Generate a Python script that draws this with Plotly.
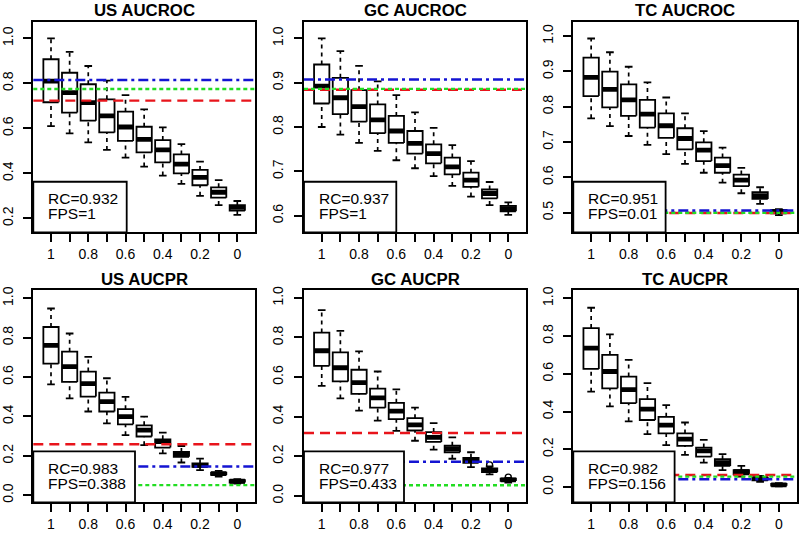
import plotly.graph_objects as go

# ---------------- data ----------------
x_levels = [1.0, 0.9, 0.8, 0.7, 0.6, 0.5, 0.4, 0.3, 0.2, 0.1, 0.0]
x_tick_text = ["1", "", "0.8", "", "0.6", "", "0.4", "", "0.2", "", "0"]

panel_titles = ["US AUCROC", "GC AUCROC", "TC AUCROC", "US AUCPR", "GC AUCPR", "TC AUCPR"]
rc_values = ["0.932", "0.937", "0.951", "0.983", "0.977", "0.982"]
fps_values = ["1", "1", "0.01", "0.388", "0.433", "0.156"]

# US AUCROC
us_roc_high = [1.000, 0.940, 0.877, 0.812, 0.748, 0.684, 0.604, 0.530, 0.452, 0.370, 0.277]
us_roc_q3 = [0.907, 0.847, 0.796, 0.729, 0.674, 0.607, 0.548, 0.484, 0.415, 0.338, 0.259]
us_roc_med = [0.810, 0.759, 0.714, 0.655, 0.606, 0.551, 0.504, 0.441, 0.382, 0.316, 0.249]
us_roc_q1 = [0.716, 0.670, 0.634, 0.582, 0.544, 0.493, 0.449, 0.400, 0.347, 0.292, 0.234]
us_roc_low = [0.610, 0.578, 0.538, 0.504, 0.470, 0.430, 0.390, 0.353, 0.300, 0.259, 0.215]

# GC AUCROC
gc_roc_high = [1.000, 0.971, 0.938, 0.903, 0.872, 0.833, 0.798, 0.759, 0.723, 0.676, 0.630]
gc_roc_q3 = [0.941, 0.911, 0.883, 0.851, 0.825, 0.791, 0.761, 0.731, 0.697, 0.659, 0.622]
gc_roc_med = [0.892, 0.866, 0.846, 0.816, 0.791, 0.763, 0.740, 0.710, 0.680, 0.650, 0.616]
gc_roc_q1 = [0.853, 0.829, 0.812, 0.786, 0.764, 0.740, 0.718, 0.693, 0.665, 0.639, 0.610]
gc_roc_low = [0.800, 0.783, 0.764, 0.746, 0.725, 0.707, 0.689, 0.667, 0.643, 0.624, 0.602]

# TC AUCROC
tc_roc_high = [0.993, 0.954, 0.913, 0.869, 0.826, 0.781, 0.731, 0.684, 0.627, 0.572, 0.510]
tc_roc_q3 = [0.939, 0.899, 0.863, 0.819, 0.781, 0.739, 0.699, 0.656, 0.608, 0.558, 0.508]
tc_roc_med = [0.883, 0.849, 0.819, 0.779, 0.746, 0.710, 0.677, 0.633, 0.592, 0.548, 0.503]
tc_roc_q1 = [0.830, 0.798, 0.774, 0.741, 0.712, 0.679, 0.646, 0.613, 0.575, 0.539, 0.498]
tc_roc_low = [0.767, 0.745, 0.717, 0.692, 0.666, 0.638, 0.613, 0.585, 0.555, 0.525, 0.493]

# US AUCPR
us_pr_high = [0.948, 0.821, 0.702, 0.594, 0.499, 0.399, 0.318, 0.250, 0.186, 0.124, 0.081]
us_pr_q3 = [0.854, 0.729, 0.628, 0.521, 0.437, 0.355, 0.284, 0.220, 0.162, 0.115, 0.076]
us_pr_med = [0.761, 0.653, 0.567, 0.475, 0.399, 0.330, 0.272, 0.208, 0.152, 0.110, 0.071]
us_pr_q1 = [0.668, 0.575, 0.501, 0.425, 0.360, 0.298, 0.242, 0.195, 0.144, 0.103, 0.064]
us_pr_low = [0.563, 0.492, 0.425, 0.365, 0.305, 0.254, 0.212, 0.166, 0.127, 0.095, 0.059]

# GC AUCPR
gc_pr_high = [0.938, 0.833, 0.730, 0.628, 0.538, 0.445, 0.367, 0.295, 0.220, 0.148, 0.090]
gc_pr_q3 = [0.825, 0.725, 0.637, 0.542, 0.470, 0.392, 0.322, 0.253, 0.192, 0.138, 0.087]
gc_pr_med = [0.733, 0.647, 0.572, 0.495, 0.428, 0.358, 0.295, 0.238, 0.180, 0.128, 0.080]
gc_pr_q1 = [0.657, 0.578, 0.515, 0.445, 0.387, 0.330, 0.272, 0.220, 0.167, 0.120, 0.075]
gc_pr_low = [0.555, 0.492, 0.430, 0.380, 0.328, 0.278, 0.233, 0.187, 0.145, 0.108, 0.067]
gc_pr_outlier_x = [0.1, 0.0]
gc_pr_outlier_y = [0.156, 0.094]

# TC AUCPR
tc_pr_high = [0.950, 0.809, 0.674, 0.550, 0.434, 0.342, 0.250, 0.174, 0.112, 0.059, 0.020]
tc_pr_q3 = [0.842, 0.700, 0.585, 0.466, 0.372, 0.284, 0.209, 0.147, 0.090, 0.050, 0.016]
tc_pr_med = [0.736, 0.612, 0.516, 0.413, 0.328, 0.254, 0.191, 0.129, 0.082, 0.044, 0.011]
tc_pr_q1 = [0.626, 0.523, 0.445, 0.355, 0.284, 0.218, 0.161, 0.112, 0.067, 0.035, 0.007]
tc_pr_low = [0.505, 0.427, 0.348, 0.280, 0.222, 0.170, 0.129, 0.089, 0.055, 0.028, 0.004]

# reference lines per panel
red_line = [0.723, 0.884, 0.499, 0.259, 0.317, 0.064]
green_line = [0.775, 0.886, 0.500, 0.051, 0.053, 0.055]
blue_line = [0.815, 0.907, 0.506, 0.146, 0.172, 0.041]

# y ranges and ticks
y_ranges = [[0.138, 1.074], [0.5625, 1.0375], [0.4445, 1.0405],
            [-0.036, 1.042], [-0.033, 1.040], [-0.081, 1.044]]
y_dticks = [0.2, 0.1, 0.1, 0.2, 0.2, 0.2]

panels = [
    (us_roc_low, us_roc_q1, us_roc_med, us_roc_q3, us_roc_high),
    (gc_roc_low, gc_roc_q1, gc_roc_med, gc_roc_q3, gc_roc_high),
    (tc_roc_low, tc_roc_q1, tc_roc_med, tc_roc_q3, tc_roc_high),
    (us_pr_low, us_pr_q1, us_pr_med, us_pr_q3, us_pr_high),
    (gc_pr_low, gc_pr_q1, gc_pr_med, gc_pr_q3, gc_pr_high),
    (tc_pr_low, tc_pr_q1, tc_pr_med, tc_pr_q3, tc_pr_high),
]

# ---------------- layout / style ----------------
W, H = 800, 536
col_px = [(33.3, 255.0), (304.0, 526.0), (573.3, 796.7)]
row_px = [(21.7, 232.3), (290.0, 502.3)]
legend_w_px = [93.4, 92.3, 92.3, 101.7, 100.0, 101.3]
legend_h_frac = 0.24

BOX_HALF = 0.041
CAP_HALF = 0.0205
FONT = "Liberation Sans, Arial, Helvetica, sans-serif"

fig = go.Figure()


def seg_lists(xs, ys_a, ys_b):
    X, Y = [], []
    for x, a, b in zip(xs, ys_a, ys_b):
        X += [x, x, None]
        Y += [a, b, None]
    return X, Y


def hseg_lists(xs, ys, half):
    X, Y = [], []
    for x, y in zip(xs, ys):
        X += [x - half, x + half, None]
        Y += [y, y, None]
    return X, Y


def rect_lists(xs, lo, hi, half):
    X, Y = [], []
    for x, a, b in zip(xs, lo, hi):
        X += [x - half, x + half, x + half, x - half, x - half, None]
        Y += [a, a, b, b, a, None]
    return X, Y


annotations = []
shapes = []
for i, (low, q1, med, q3, high) in enumerate(panels):
    r, c = divmod(i, 3)
    ax = "" if i == 0 else str(i + 1)
    xref, yref = "x" + ax, "y" + ax
    x0p, x1p = col_px[c]
    t0p, b0p = row_px[r]
    fig.layout["xaxis" + ax] = dict(
        domain=[x0p / W, x1p / W], anchor=yref, automargin=False,
        range=[1.095, -0.095], tickmode="array", tickvals=x_levels, ticktext=x_tick_text,
        showgrid=False, zeroline=False, showline=True, mirror=True, linecolor="black", linewidth=2,
        ticks="outside", ticklen=8, tickwidth=1.8, tickcolor="black",
        tickfont=dict(family=FONT, size=14, color="black"), ticklabelstandoff=0,
    )
    fig.layout["yaxis" + ax] = dict(
        domain=[1 - b0p / H, 1 - t0p / H], anchor=xref, automargin=False,
        range=y_ranges[i], tick0=0, dtick=y_dticks[i], tickformat=".1f",
        showgrid=False, zeroline=False, showline=True, mirror=True, linecolor="black", linewidth=2,
        ticks="outside", ticklen=8, tickwidth=1.8, tickcolor="black", tickangle=-90,
        tickfont=dict(family=FONT, size=14, color="black"), ticklabelstandoff=5,
    )

    # box bodies
    bx, by = rect_lists(x_levels, q1, q3, BOX_HALF)
    fig.add_trace(go.Scatter(x=bx, y=by, xaxis=xref, yaxis=yref, mode="lines", fill="toself",
                             fillcolor="white", line=dict(color="black", width=1.8),
                             showlegend=False, hoverinfo="skip"))
    # whiskers (dashed)
    wx1, wy1 = seg_lists(x_levels, q3, high)
    wx2, wy2 = seg_lists(x_levels, low, q1)
    fig.add_trace(go.Scatter(x=wx1 + wx2, y=wy1 + wy2, xaxis=xref, yaxis=yref, mode="lines",
                             line=dict(color="black", width=1.7, dash="4px,4px"),
                             showlegend=False, hoverinfo="skip"))
    # caps
    cx1, cy1 = hseg_lists(x_levels, high, CAP_HALF)
    cx2, cy2 = hseg_lists(x_levels, low, CAP_HALF)
    fig.add_trace(go.Scatter(x=cx1 + cx2, y=cy1 + cy2, xaxis=xref, yaxis=yref, mode="lines",
                             line=dict(color="black", width=1.8),
                             showlegend=False, hoverinfo="skip"))
    # medians
    mx, my = hseg_lists(x_levels, med, BOX_HALF)
    fig.add_trace(go.Scatter(x=mx, y=my, xaxis=xref, yaxis=yref, mode="lines",
                             line=dict(color="black", width=4.8),
                             showlegend=False, hoverinfo="skip"))
    if i == 4:
        fig.add_trace(go.Scatter(x=gc_pr_outlier_x, y=gc_pr_outlier_y, xaxis=xref, yaxis=yref,
                                 mode="markers",
                                 marker=dict(symbol="circle-open", size=6, color="black",
                                             line=dict(width=1.4)),
                                 showlegend=False, hoverinfo="skip"))

    dom = xref + " domain"
    ydom = yref + " domain"
    # reference lines
    shapes.append(dict(type="line", xref=dom, yref=yref, x0=0, x1=1, y0=red_line[i], y1=red_line[i],
                       line=dict(color="#E8141B", width=2.4, dash="10px,6px"), layer="above"))
    shapes.append(dict(type="line", xref=dom, yref=yref, x0=0, x1=1, y0=green_line[i], y1=green_line[i],
                       line=dict(color="#22DD22", width=2.4, dash="4px,3px"), layer="above"))
    shapes.append(dict(type="line", xref=dom, yref=yref, x0=0, x1=1, y0=blue_line[i], y1=blue_line[i],
                       line=dict(color="#1414D2", width=2.4, dash="10px,4px,3px,4px"), layer="above"))
    # legend box
    shapes.append(dict(type="rect", xref=dom, yref=ydom, x0=0, x1=legend_w_px[i] / (x1p - x0p),
                       y0=0, y1=legend_h_frac, fillcolor="white",
                       line=dict(color="black", width=1.8), layer="above"))
    annotations.append(dict(xref=dom, yref=ydom, x=0, y=0, xshift=13, yshift=34,
                            xanchor="left", yanchor="middle", showarrow=False,
                            text="RC=" + rc_values[i], font=dict(family=FONT, size=15.5, color="black")))
    annotations.append(dict(xref=dom, yref=ydom, x=0, y=0, xshift=13, yshift=19,
                            xanchor="left", yanchor="middle", showarrow=False,
                            text="FPS=" + fps_values[i], font=dict(family=FONT, size=15.5, color="black")))
    # title
    annotations.append(dict(xref=dom, yref=ydom, x=0.5, y=1, yshift=11,
                            xanchor="center", yanchor="middle", showarrow=False,
                            text="<b>" + panel_titles[i] + "</b>",
                            font=dict(family=FONT, size=16.8, color="black")))

fig.update_layout(width=W, height=H, margin=dict(l=0, r=0, t=0, b=0),
                  paper_bgcolor="white", plot_bgcolor="white",
                  shapes=shapes, annotations=annotations, showlegend=False)

fig.write_html("out.html", config={"displayModeBar": False},
               post_script="document.body.style.margin='0px';document.body.style.overflow='hidden';")
